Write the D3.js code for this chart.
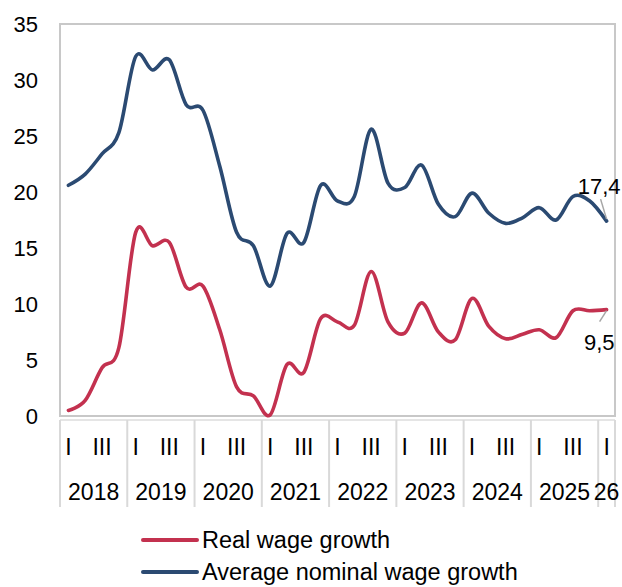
<!DOCTYPE html>
<html><head><meta charset="utf-8">
<script src="https://cdn.jsdelivr.net/npm/d3@7"></script>
<style>body{margin:0;background:#fff;}svg{display:block;font-family:"Liberation Sans",Arial,sans-serif;}</style>
</head><body>
<svg id="c" width="622" height="587"></svg>
<script>
const years = ["2018","2019","2020","2021","2022","2023","2024","2025","26"];
const quarterNames = ["I","II","III","IV"];
const yTicks = [0,5,10,15,20,25,30,35];
const nominal = [20.6,21.6,23.4,25.3,32.1,30.9,31.8,27.8,27.3,22.3,16.4,15.2,11.6,16.3,15.5,20.6,19.2,19.6,25.6,20.8,20.4,22.4,18.9,17.8,19.9,18.1,17.2,17.7,18.6,17.5,19.6,19.2,17.4];
const real = [0.5,1.4,4.3,6.1,16.4,15.2,15.5,11.5,11.6,7.7,2.6,1.8,0.1,4.6,3.9,8.7,8.4,8.1,12.9,8.4,7.4,10.1,7.5,6.8,10.5,8.0,6.9,7.3,7.7,7.0,9.4,9.4,9.5];
const seriesNames = ["Real wage growth","Average nominal wage growth"];
const colors = ["#C3314F","#2B4A72"];

const quarters = [];
years.forEach((y,yi)=>{ const n = yi===years.length-1?1:4; for(let q=0;q<n;q++) quarters.push({year:y,q:q,key:y+"-"+q}); });

const svg = d3.select("#c");
const L=60,R=615,T=24,B=416;
const x = d3.scaleBand().domain(quarters.map(d=>d.key)).range([L,R]).padding(0);
const y = d3.scaleLinear().domain([0,35]).range([B,T]);
const cx = i => x(quarters[i].key)+x.bandwidth()/2;

// plot border
svg.append("rect").attr("x",L).attr("y",T).attr("width",R-L).attr("height",B-T)
  .attr("fill","none").attr("stroke","#C8C8C8").attr("stroke-width",2);

// y axis labels
svg.append("g").selectAll("text").data(yTicks).join("text")
  .attr("x",38).attr("y",d=>y(d)).attr("dy","0.36em").attr("text-anchor","end")
  .attr("font-size",22).attr("fill","#000").text(d=>d);

// x axis line
svg.append("line").attr("x1",L).attr("x2",R).attr("y1",420).attr("y2",420).attr("stroke","#DCDCDC").attr("stroke-width",1.5);
// separators
const sepIdx = [];
quarters.forEach((d,i)=>{ if(d.q===0) sepIdx.push(x(d.key)); });
sepIdx.push(R);
svg.append("g").selectAll("line").data(sepIdx).join("line")
  .attr("x1",d=>d).attr("x2",d=>d).attr("y1",420).attr("y2",507)
  .attr("stroke","#D9D9D9").attr("stroke-width",2);

// quarter labels
svg.append("g").selectAll("text").data(quarters.filter(d=>d.q===0||d.q===2)).join("text")
  .attr("x",d=>x(d.key)+x.bandwidth()/2).attr("y",455).attr("text-anchor","middle")
  .attr("font-size",23).attr("fill","#000").text(d=>quarterNames[d.q]);
// year labels
svg.append("g").selectAll("text").data(years).join("text")
  .attr("x",yr=>{const qs=quarters.filter(d=>d.year===yr); return (x(qs[0].key)+x(qs[qs.length-1].key)+x.bandwidth())/2;})
  .attr("y",500).attr("text-anchor","middle").attr("font-size",23).attr("fill","#000").text(d=>d);

// lines
const line = d3.line().x((d,i)=>cx(i)).y(d=>y(d)).curve(d3.curveCatmullRom.alpha(0));
[nominal, real].forEach((s,k)=>{
  svg.append("path").datum(s).attr("d",line).attr("fill","none")
    .attr("stroke",k===0?colors[1]:colors[0]).attr("stroke-width",3.6)
    .attr("stroke-linejoin","round").attr("stroke-linecap","round");
});

// data labels
const last = quarters.length-1;
const fmt = v => d3.format(".1f")(v).replace(".",",");
const px = cx(last);
// nominal
svg.append("line").attr("x1",px-6).attr("y1",y(nominal[last])-22).attr("x2",px).attr("y2",y(nominal[last])-2)
  .attr("stroke","#A6A6A6").attr("stroke-width",1.5);
svg.append("text").attr("x",px+14).attr("y",y(nominal[last])-27).attr("text-anchor","end")
  .attr("font-size",22).attr("fill","#000").text(fmt(nominal[last]));
// real
svg.append("line").attr("x1",px-7).attr("y1",y(real[last])+12).attr("x2",px).attr("y2",y(real[last])+1)
  .attr("stroke","#A6A6A6").attr("stroke-width",1.5);
svg.append("text").attr("x",px+8).attr("y",y(real[last])+40).attr("text-anchor","end")
  .attr("font-size",22).attr("fill","#000").text(fmt(real[last]));

// legend
const lg = svg.append("g");
seriesNames.forEach((n,k)=>{
  const yy = 540 + k*32;
  lg.append("line").attr("x1",143).attr("x2",197).attr("y1",yy).attr("y2",yy)
    .attr("stroke",colors[k]).attr("stroke-width",4).attr("stroke-linecap","round");
  lg.append("text").attr("x",202).attr("y",yy).attr("dy","0.36em").attr("font-size",23.5).attr("fill","#000").text(n);
});
</script>
</body></html>
